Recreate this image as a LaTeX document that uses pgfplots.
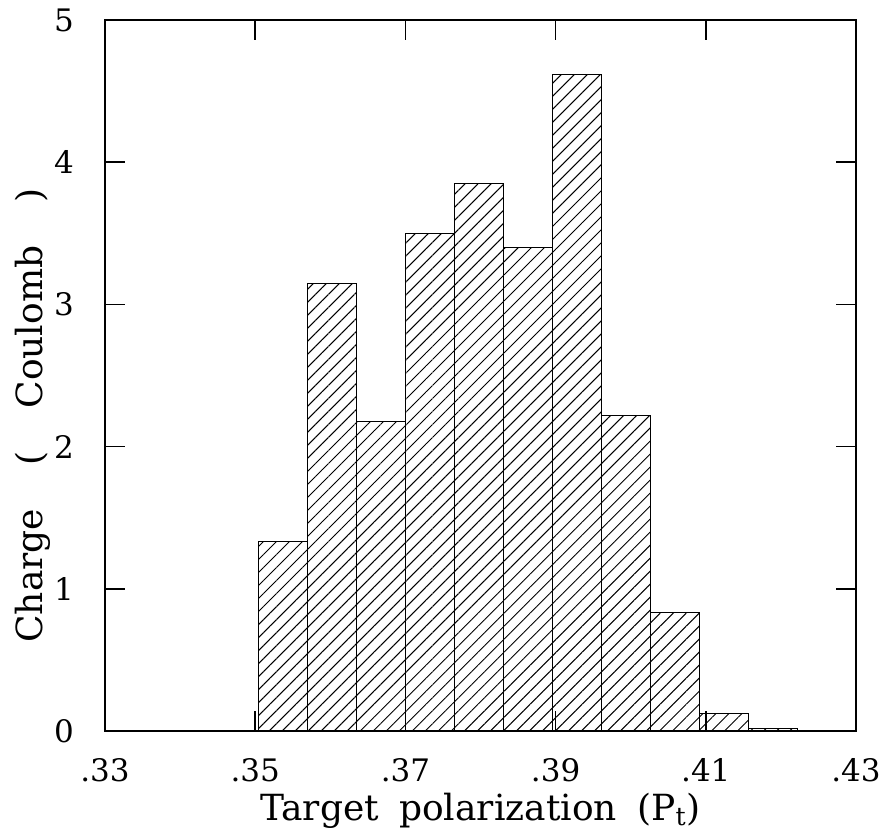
\documentclass[border=0pt]{standalone}
\usepackage{fontspec}
\setmainfont{DejaVu Serif}
\usepackage{pgfplots}
\pgfplotsset{compat=1.18}
\usetikzlibrary{patterns.meta}
\pgfplotstableread{
x y
0.35040 1.33
0.35693 3.15
0.36346 2.18
0.36999 3.50
0.37652 3.85
0.38305 3.40
0.38958 4.62
0.39611 2.22
0.40264 0.83
0.40917 0.12
0.41570 0.02
0.42223 0.00
}\histdata
\begin{document}
\begin{tikzpicture}[x=1pt,y=1pt]
\useasboundingbox (0,0) rectangle (439.5,415.5);
\begin{axis}[
  at={(52.5pt,50pt)}, anchor=south west,
  scale only axis, width=375.5pt, height=355.5pt,
  xmin=0.33, xmax=0.43, ymin=0, ymax=5,
  xtick={0.33,0.35,0.37,0.39,0.41,0.43},
  xticklabels={.33,.35,.37,.39,.41,.43},
  ytick={0,1,2,3,4,5},
  yticklabels={0,1,2,3,4,5},
  tick align=inside, major tick length=10pt,
  axis line style={line width=1pt},
  every tick/.style={black, line width=0.8pt},
  tick label style={font=\fontsize{15.5}{18}\selectfont},
  xticklabel style={yshift=-10pt},
  yticklabel style={xshift=-12pt},
  label style={font=\fontsize{18}{21}\selectfont},
  xlabel={Target\hspace{0.25em} polarization\hspace{0.25em} (P\textsubscript{t})},
  ylabel={Charge\hspace{1.2em}(\hspace{1.2em}Coulomb\hspace{1.2em})},
  xlabel style={yshift=1pt},
  ylabel style={yshift=-5pt, xshift=-20pt},
  /pgf/number format/assume math mode=true,
]
\addplot[ybar interval, draw=black, line width=0.5pt,
  pattern={Lines[angle=45, distance=4.6pt, line width=0.5pt]}]
  table[x=x, y=y] {\histdata};
\end{axis}
\end{tikzpicture}
\end{document}
